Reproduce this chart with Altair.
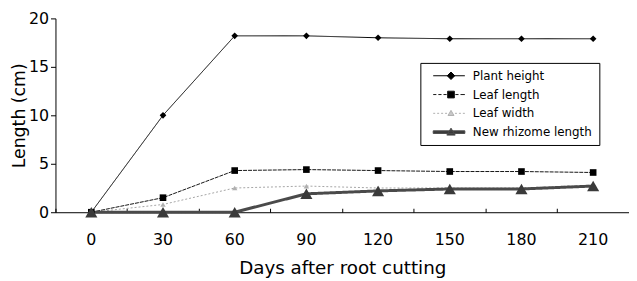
import altair as alt
import pandas as pd

FONT = "DejaVu Sans"

days = [0, 30, 60, 90, 120, 150, 180, 210]
series_names = ["Plant height", "Leaf length", "Leaf width", "New rhizome length"]
plant_height = [0, 10.0, 18.2, 18.2, 18.0, 17.9, 17.9, 17.9]
leaf_length = [0, 1.5, 4.3, 4.4, 4.3, 4.2, 4.2, 4.1]
leaf_width = [0, 0.8, 2.5, 2.7, 2.5, 2.5, 2.5, 2.8]
rhizome_length = [0, 0, 0, 1.9, 2.2, 2.4, 2.4, 2.7]
y_ticks = [0, 5, 10, 15, 20]

all_values = [plant_height, leaf_length, leaf_width, rhizome_length]
rows = []
for name, vals in zip(series_names, all_values):
    for d, v in zip(days, vals):
        rows.append({"day": d, "length": v, "series": name})
df = pd.DataFrame(rows)

line_colors = ["#000000", "#151515", "#a5a5a5", "#4a4a4a"]
point_colors = ["#000000", "#000000", "#b0b0b0", "#3a3a3a"]
dashes = [[1, 0], [4, 1], [2, 2], [1, 0]]
widths = [1, 1, 1, 3]
shapes = ["diamond", "square", "triangle-up", "triangle-up"]
sizes = [45, 45, 30, 150]

# legend symbols: short line + marker (units scale by sqrt(size)/2)
legend_paths = [
    "M0,0H16M9,-1.9L10.9,0L9,1.9L7.1,0Z",
    "M0,0H1.6M2.6,0H4.2M5.2,0H6.8M11.2,0H12.8M13.8,0H16M7.3,-1.7H10.7V1.7H7.3Z",
    "M0,0H1M2,0H3M4,0H5M6,0H7M11,0H12M13,0H14M15,0H16M9,-1.5L10.5,1.1H7.5Z",
    "M0,-0.65H16V0.65H0ZM9,-2L11.1,1.5H6.9Z",
]
legend_fill = ["#000000", "#000000", "#c8c8c8", "#3a3a3a"]
legend_stroke = ["#000000", "#151515", "#b0b0b0", "#4a4a4a"]

x_scale = alt.Scale(type="band", domain=days, paddingInner=0, paddingOuter=0)
y_enc = alt.Y(
    "length:Q",
    scale=alt.Scale(domain=[0, 20], nice=False),
    axis=alt.Axis(
        values=y_ticks, title="Length (cm)", tickSize=5, labelFontSize=16,
        labelPadding=2, titleFontSize=17.5, titleX=-36, titleY=98,
        titleAlign="center", titleBaseline="middle", titleAngle=270,
        grid=False,
    ),
)

lines = alt.Chart(df).mark_line(opacity=1).encode(
    x=alt.X(
        "day:O", scale=x_scale, sort=days,
        axis=alt.Axis(
            orient="bottom", title="Days after root cutting", ticks=False,
            labelAngle=0, labelFontSize=16, labelPadding=20, titleFontSize=18.5,
            titleY=62, titleBaseline="alphabetic", grid=False,
        ),
    ),
    y=y_enc,
    color=alt.Color("series:N", scale=alt.Scale(domain=series_names, range=line_colors), legend=None),
    strokeDash=alt.StrokeDash("series:N", scale=alt.Scale(domain=series_names, range=dashes), legend=None),
    strokeWidth=alt.StrokeWidth("series:N", scale=alt.Scale(type="ordinal", domain=series_names, range=widths), legend=None),
    detail="series:N",
)

points = alt.Chart(df).mark_point(filled=True, opacity=1).encode(
    x=alt.X(
        "day:O", scale=x_scale, sort=days,
        axis=alt.Axis(
            orient="bottom", labels=False, domain=False, ticks=True, tickSize=4,
            offset=-4, bandPosition=0, title=None, grid=False,
        ),
    ),
    y=y_enc,
    color=alt.Color("series:N", scale=alt.Scale(domain=series_names, range=point_colors), legend=None),
    shape=alt.Shape("series:N", scale=alt.Scale(domain=series_names, range=shapes), legend=None),
    size=alt.Size("series:N", scale=alt.Scale(type="ordinal", domain=series_names, range=sizes), legend=None),
)

leg = alt.Legend(
    title=None, orient="none", legendX=369, legendY=45, padding=7,
    strokeColor="black", fillColor="white", labelFontSize=12, labelFont=FONT,
    labelColor="black", labelOffset=34, rowPadding=7, symbolSize=16,
    symbolStrokeWidth=1,
)

legend_df = pd.DataFrame({"key": series_names})
legend_layer = alt.Chart(legend_df).transform_filter("false").mark_point(
    filled=True, opacity=1, size=16, strokeWidth=1
).encode(
    fill=alt.Fill("key:N", scale=alt.Scale(domain=series_names, range=legend_fill), legend=leg),
    stroke=alt.Stroke("key:N", scale=alt.Scale(domain=series_names, range=legend_stroke), legend=leg),
    shape=alt.Shape("key:N", scale=alt.Scale(domain=series_names, range=legend_paths), legend=leg),
)

chart = (
    alt.layer(lines, points, legend_layer)
    .resolve_scale(shape="independent", strokeWidth="independent", fill="independent",
                   stroke="independent", size="independent", color="independent",
                   strokeDash="independent")
    .resolve_axis(x="independent")
    .properties(
        width=580, height=196,
        padding={"left": 48, "top": 9, "right": 0, "bottom": 66},
        autosize=alt.AutoSizeParams(type="none"),
        background="white",
    )
    .configure_view(stroke=None)
    .configure_axis(
        domainColor="black", tickColor="black", labelColor="black", titleColor="black",
        labelFont=FONT, titleFont=FONT, titleFontWeight="normal", domainWidth=1,
    )
)

chart.save("out.html", embed_options={"renderer": "svg", "actions": False})
